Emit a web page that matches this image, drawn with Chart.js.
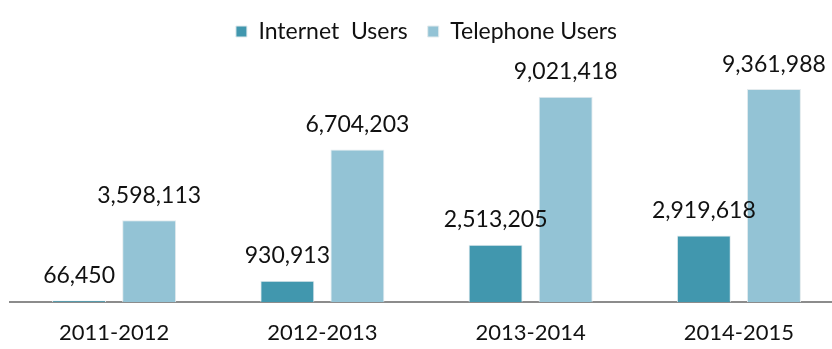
<!DOCTYPE html>
<html>
<head>
<meta charset="utf-8">
<script src="https://cdn.jsdelivr.net/npm/chart.js@4/dist/chart.umd.min.js"></script>
<style>
  html, body { margin: 0; padding: 0; background: #fff; overflow: hidden; }
  #wrap { width: 843px; height: 349px; position: relative; }
</style>
</head>
<body>
<div id="wrap"><canvas id="myChart"></canvas></div>
<script>
const years = ['2011-2012', '2012-2013', '2013-2014', '2014-2015']
const internetUsers = [66450, 930913, 2513205, 2919618]
const telephoneUsers = [3598113, 6704203, 9021418, 9361988]

const FONT = 'Lato, "Open Sans", sans-serif'

// numbers above the bars
const barLabels = {
  id: 'barLabels',
  afterDatasetsDraw(chart) {
    const ctx = chart.ctx
    ctx.save()
    ctx.font = '23px ' + FONT
    ctx.fillStyle = '#111'
    ctx.textAlign = 'center'
    ctx.textBaseline = 'middle'
    chart.data.datasets.forEach((ds, i) => {
      chart.getDatasetMeta(i).data.forEach((bar, j) => {
        ctx.fillText(ds.data[j].toLocaleString('en-US'), bar.x, bar.y - 25)
      })
    })
    ctx.restore()
  }
}

Chart.defaults.font.family = FONT
Chart.defaults.color = '#111'

const ctx = document.getElementById('myChart')
const myChart = new Chart(ctx, {
  type: 'bar',
  data: {
    labels: years,
    datasets: [{
      label: 'Internet  Users',
      data: internetUsers,
      backgroundColor: '#4197ae',
      borderColor: '#e3ebee',
      borderWidth: 1,
      borderSkipped: 'bottom'
    }, {
      label: 'Telephone Users',
      data: telephoneUsers,
      backgroundColor: '#93c3d5',
      borderColor: '#e3ebee',
      borderWidth: 1,
      borderSkipped: 'bottom'
    }]
  },
  options: {
    responsive: true,
    maintainAspectRatio: false,
    animation: false,
    layout: { padding: { left: 10, right: 0, top: 0, bottom: 0 } },
    categoryPercentage: 0.673,
    barPercentage: 0.77,
    plugins: {
      legend: {
        position: 'top',
        labels: {
          font: { size: 23 },
          boxWidth: 11,
          boxHeight: 11,
          padding: 20,
          color: '#111'
        }
      },
      tooltip: { enabled: false }
    },
    scales: {
      x: {
        grid: { display: false },
        border: { display: true, color: '#8c8c8c', width: 2 },
        ticks: { font: { size: 22 }, color: '#111', padding: 10 },
        afterFit(scale) { scale.height = 47 }
      },
      y: {
        display: false,
        min: 0,
        max: 10950000
      }
    }
  },
  plugins: [barLabels]
})
</script>
</body>
</html>
